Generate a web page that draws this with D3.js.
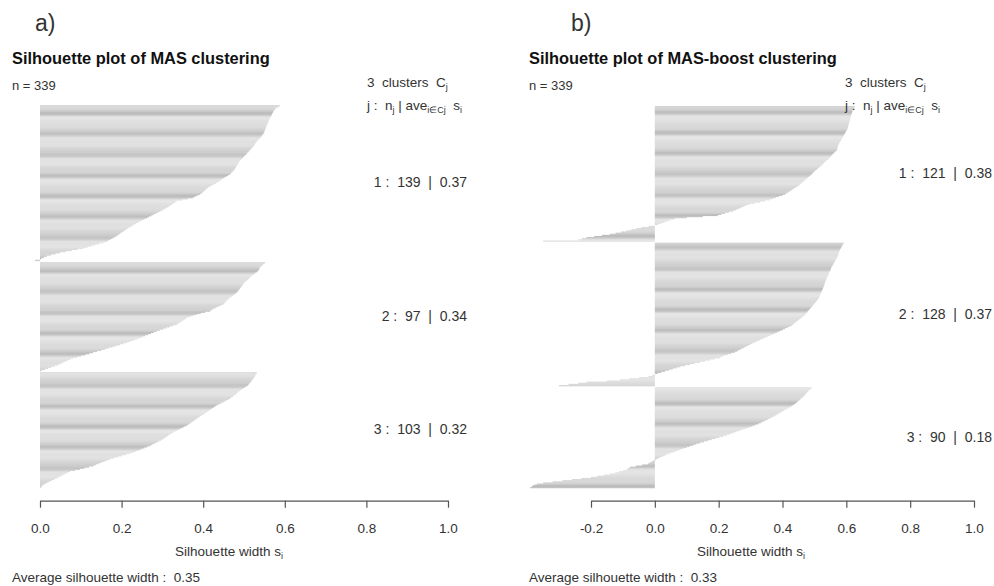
<!DOCTYPE html>
<html>
<head>
<meta charset="utf-8">
<script src="https://cdn.jsdelivr.net/npm/d3@7"></script>
<style>
  body { margin: 0; background: #fff; }
  svg { display: block; font-family: "Liberation Sans", Arial, Helvetica, sans-serif; }
</style>
</head>
<body>
<svg id="chart" width="994" height="586"></svg>
<script>
// ---- Silhouette widths s_i, sorted within each cluster (largest first) ----

// MAS clustering
const masCluster1 = [
  0.588, 0.584, 0.579, 0.576, 0.574, 0.572, 0.571, 0.569, 0.568, 0.567,
  0.565, 0.564, 0.562, 0.561, 0.560, 0.559, 0.558, 0.556, 0.555, 0.554,
  0.553, 0.552, 0.551, 0.550, 0.549, 0.547, 0.545, 0.543, 0.541, 0.539,
  0.536, 0.534, 0.531, 0.529, 0.527, 0.525, 0.523, 0.521, 0.518, 0.516,
  0.513, 0.511, 0.508, 0.506, 0.503, 0.500, 0.498, 0.495, 0.493, 0.490,
  0.488, 0.486, 0.485, 0.483, 0.481, 0.480, 0.478, 0.476, 0.474, 0.471,
  0.468, 0.466, 0.461, 0.457, 0.452, 0.448, 0.444, 0.441, 0.436, 0.431,
  0.426, 0.421, 0.416, 0.412, 0.408, 0.405, 0.402, 0.399, 0.396, 0.392,
  0.386, 0.380, 0.375, 0.362, 0.348, 0.335, 0.331, 0.327, 0.323, 0.319,
  0.315, 0.310, 0.305, 0.300, 0.295, 0.289, 0.284, 0.278, 0.273, 0.267,
  0.262, 0.256, 0.250, 0.245, 0.240, 0.235, 0.230, 0.226, 0.221, 0.216,
  0.212, 0.208, 0.204, 0.200, 0.196, 0.192, 0.188, 0.183, 0.178, 0.173,
  0.168, 0.164, 0.155, 0.145, 0.135, 0.126, 0.116, 0.106, 0.092, 0.078,
  0.063, 0.049, 0.038, 0.027, 0.017, 0.010, 0.004, 0.001, -0.012
];
const masCluster2 = [
  0.552, 0.548, 0.545, 0.542, 0.539, 0.538, 0.537, 0.535, 0.532, 0.528,
  0.525, 0.521, 0.518, 0.515, 0.512, 0.509, 0.506, 0.503, 0.500, 0.498,
  0.496, 0.494, 0.492, 0.490, 0.488, 0.486, 0.483, 0.480, 0.476, 0.473,
  0.470, 0.466, 0.463, 0.460, 0.457, 0.454, 0.452, 0.449, 0.443, 0.437,
  0.431, 0.425, 0.420, 0.417, 0.405, 0.394, 0.384, 0.376, 0.368, 0.360,
  0.356, 0.352, 0.348, 0.343, 0.339, 0.335, 0.326, 0.318, 0.310, 0.302,
  0.294, 0.286, 0.279, 0.272, 0.265, 0.258, 0.252, 0.245, 0.237, 0.229,
  0.221, 0.213, 0.205, 0.196, 0.187, 0.178, 0.168, 0.159, 0.150, 0.140,
  0.130, 0.121, 0.111, 0.101, 0.091, 0.081, 0.074, 0.068, 0.062, 0.056,
  0.050, 0.044, 0.036, 0.028, 0.020, 0.012, 0.004
];
const masCluster3 = [
  0.532, 0.530, 0.528, 0.527, 0.525, 0.523, 0.521, 0.519, 0.517, 0.515,
  0.512, 0.510, 0.506, 0.502, 0.498, 0.494, 0.490, 0.486, 0.483, 0.480,
  0.476, 0.473, 0.469, 0.466, 0.461, 0.455, 0.450, 0.444, 0.438, 0.433,
  0.429, 0.425, 0.421, 0.417, 0.413, 0.409, 0.405, 0.401, 0.396, 0.392,
  0.388, 0.384, 0.380, 0.376, 0.372, 0.368, 0.364, 0.360, 0.354, 0.349,
  0.343, 0.338, 0.332, 0.327, 0.323, 0.318, 0.314, 0.310, 0.306, 0.302,
  0.297, 0.292, 0.286, 0.281, 0.275, 0.270, 0.263, 0.256, 0.249, 0.242,
  0.235, 0.229, 0.219, 0.210, 0.200, 0.191, 0.181, 0.172, 0.165, 0.158,
  0.151, 0.144, 0.137, 0.131, 0.120, 0.109, 0.098, 0.086, 0.074, 0.068,
  0.062, 0.057, 0.051, 0.046, 0.041, 0.035, 0.029, 0.023, 0.018, 0.012,
  0.008, 0.005, 0.002
];

// MAS-boost clustering
const boostCluster1 = [
  0.627, 0.624, 0.622, 0.620, 0.619, 0.618, 0.617, 0.616, 0.615, 0.614,
  0.613, 0.612, 0.611, 0.610, 0.609, 0.608, 0.607, 0.606, 0.605, 0.604,
  0.603, 0.601, 0.599, 0.597, 0.595, 0.593, 0.591, 0.589, 0.587, 0.585,
  0.583, 0.581, 0.579, 0.577, 0.575, 0.574, 0.573, 0.572, 0.571, 0.570,
  0.566, 0.562, 0.558, 0.555, 0.552, 0.549, 0.546, 0.542, 0.538, 0.534,
  0.530, 0.527, 0.523, 0.519, 0.515, 0.511, 0.507, 0.503, 0.499, 0.495,
  0.492, 0.488, 0.484, 0.480, 0.476, 0.472, 0.468, 0.464, 0.460, 0.456,
  0.452, 0.447, 0.441, 0.436, 0.430, 0.425, 0.419, 0.413, 0.408, 0.399,
  0.389, 0.379, 0.370, 0.360, 0.345, 0.330, 0.312, 0.296, 0.286, 0.278,
  0.270, 0.262, 0.254, 0.245, 0.232, 0.220, 0.208, 0.197, 0.150, 0.100,
  0.063, 0.050, 0.040, 0.030, 0.020, 0.010, 0.001, -0.020, -0.042, -0.058,
  -0.073, -0.089, -0.106, -0.123, -0.141, -0.166, -0.190, -0.214, -0.228, -0.240,
  -0.350
];
const boostCluster2 = [
  0.592, 0.589, 0.587, 0.585, 0.583, 0.581, 0.579, 0.578, 0.577, 0.576,
  0.575, 0.574, 0.572, 0.570, 0.568, 0.566, 0.564, 0.562, 0.560, 0.558,
  0.556, 0.554, 0.552, 0.551, 0.550, 0.548, 0.546, 0.545, 0.543, 0.542,
  0.540, 0.539, 0.537, 0.536, 0.534, 0.533, 0.532, 0.531, 0.530, 0.528,
  0.527, 0.525, 0.524, 0.522, 0.521, 0.519, 0.518, 0.516, 0.515, 0.513,
  0.511, 0.508, 0.505, 0.502, 0.499, 0.496, 0.493, 0.490, 0.487, 0.484,
  0.481, 0.478, 0.475, 0.472, 0.469, 0.465, 0.461, 0.456, 0.452, 0.447,
  0.443, 0.438, 0.434, 0.430, 0.423, 0.416, 0.408, 0.401, 0.393, 0.385,
  0.378, 0.370, 0.362, 0.354, 0.346, 0.338, 0.330, 0.322, 0.314, 0.306,
  0.300, 0.293, 0.286, 0.279, 0.272, 0.265, 0.258, 0.251, 0.240, 0.229,
  0.218, 0.210, 0.204, 0.188, 0.172, 0.157, 0.141, 0.125, 0.110, 0.095,
  0.080, 0.068, 0.056, 0.044, 0.032, 0.020, 0.010, 0.001, -0.008, -0.020,
  -0.050, -0.080, -0.110, -0.150, -0.214, -0.240, -0.270, -0.300
];
const boostCluster3 = [
  0.492, 0.488, 0.484, 0.480, 0.477, 0.474, 0.471, 0.468, 0.464, 0.460,
  0.456, 0.452, 0.448, 0.444, 0.440, 0.435, 0.430, 0.424, 0.418, 0.412,
  0.405, 0.399, 0.393, 0.387, 0.381, 0.375, 0.368, 0.361, 0.354, 0.347,
  0.340, 0.332, 0.324, 0.315, 0.306, 0.296, 0.286, 0.276, 0.266, 0.256,
  0.246, 0.236, 0.226, 0.214, 0.202, 0.190, 0.178, 0.166, 0.154, 0.142,
  0.130, 0.120, 0.110, 0.100, 0.090, 0.080, 0.070, 0.060, 0.050, 0.040,
  0.032, 0.024, 0.016, 0.009, 0.003, -0.004, -0.010, -0.016, -0.022, -0.040,
  -0.060, -0.078, -0.085, -0.088, -0.100, -0.112, -0.124, -0.141, -0.160, -0.180,
  -0.200, -0.230, -0.260, -0.290, -0.320, -0.350, -0.370, -0.380, -0.385, -0.390
];

// Cluster summaries (n_j and average s_i) and overall averages
const masSizes = [139, 97, 103];
const masAverages = ["0.37", "0.34", "0.32"];
const masOverall = "0.35";
const boostSizes = [121, 128, 90];
const boostAverages = ["0.38", "0.37", "0.18"];
const boostOverall = "0.33";

// Axis tick values
const masTicks = [0.0, 0.2, 0.4, 0.6, 0.8, 1.0];
const boostTicks = [-0.2, 0.0, 0.2, 0.4, 0.6, 0.8, 1.0];

// ---- Layout / style per panel ----
const panels = [
  {
    tag: "a)", title: "Silhouette plot of MAS clustering",
    clusters: [masCluster1, masCluster2, masCluster3],
    sizes: masSizes, averages: masAverages, overall: masOverall, ticks: masTicks,
    xDomain: [0, 1], xRange: [40, 448],
    top: 105, bottom: 487.5,
    textLeft: 12, tagX: 35, legendX: 367, labelRight: 467, axisTitleX: 229,
    bandPhase: [8, 8.7, 13]
  },
  {
    tag: "b)", title: "Silhouette plot of MAS-boost clustering",
    clusters: [boostCluster1, boostCluster2, boostCluster3],
    sizes: boostSizes, averages: boostAverages, overall: boostOverall, ticks: boostTicks,
    xDomain: [-0.2, 1], xRange: [591, 974],
    top: 106, bottom: 488,
    textLeft: 529, tagX: 571, legendX: 845, labelRight: 992, axisTitleX: 751,
    bandPhase: [5.7, 4.7, 16]
  }
];

const GAP = 1;          // empty slots between clusters
const BAND = 20.7;      // period of the grey shading bands
const axisY = 500.7;

const svg = d3.select("#chart");
const defs = svg.append("defs");

// vertical shading gradient used inside the band pattern
const grad = defs.append("linearGradient")
  .attr("id", "barShade").attr("x1", 0).attr("y1", 0).attr("x2", 0).attr("y2", 1);
[[0, "#b9b9b9"], [0.1, "#c6c6c6"], [0.2, "#e3e3e3"], [0.5, "#dedede"],
 [0.82, "#d1d1d1"], [0.93, "#c7c7c7"], [1, "#b9b9b9"]].forEach(([o, c]) =>
  grad.append("stop").attr("offset", o).attr("stop-color", c));

panels.forEach((p, pi) => {
  const g = svg.append("g");
  const x = d3.scaleLinear().domain(p.xDomain).range(p.xRange);

  // slot positions of every bar, clusters stacked top to bottom
  const total = d3.sum(p.clusters, c => c.length) + GAP * (p.clusters.length - 1);
  const y = d3.scaleLinear().domain([0, total]).range([p.top, p.bottom]);
  const slot = y(1) - y(0);

  let offset = 0;
  p.clusters.forEach((vals, ci) => {
    const start = offset;
    const pid = `band-${pi}-${ci}`;
    const pat = defs.append("pattern")
      .attr("id", pid).attr("patternUnits", "userSpaceOnUse")
      .attr("x", 0).attr("y", y(start) + p.bandPhase[ci])
      .attr("width", 994).attr("height", BAND);
    pat.append("rect").attr("width", 994).attr("height", BAND).attr("fill", "url(#barShade)");

    g.append("g").selectAll("rect")
      .data(vals)
      .join("rect")
      .attr("x", d => Math.min(x(d), x(0)))
      .attr("y", (d, i) => y(start + i))
      .attr("width", d => Math.abs(x(d) - x(0)))
      .attr("height", slot + 0.3)
      .attr("fill", `url(#${pid})`);

    // cluster label  "j :  n_j | ave"
    const mid = (y(start) + y(start + vals.length)) / 2;
    g.append("text")
      .attr("x", p.labelRight).attr("y", mid + 4.5)
      .attr("text-anchor", "end")
      .style("white-space", "pre")
      .attr("font-size", 14).attr("fill", "#333")
      .text(`${ci + 1} :  ${p.sizes[ci]}  |  ${p.averages[ci]}`);

    offset += vals.length + GAP;
  });

  // x axis
  const axis = d3.axisBottom(x)
    .tickValues(p.ticks)
    .tickFormat(d => d.toFixed(1))
    .tickSize(7).tickSizeOuter(0).tickPadding(16);
  const ag = g.append("g").attr("transform", `translate(0,${axisY})`).call(axis);
  ag.select(".domain").attr("stroke", "#555").attr("stroke-width", 1.2);
  ag.selectAll(".tick line").attr("stroke", "#555").attr("stroke-width", 1.2);
  ag.selectAll(".tick text")
    .attr("font-size", 13.5).attr("fill", "#333")
    .attr("font-family", "Liberation Sans, Arial, sans-serif");

  // axis title with subscript
  const at = g.append("text").attr("x", p.axisTitleX).attr("y", 556)
    .attr("text-anchor", "middle")
    .attr("font-size", 13.5).attr("fill", "#333");
  at.append("tspan").text("Silhouette width s");
  at.append("tspan").attr("dy", 3).attr("font-size", 9).text("i");

  // panel tag and title
  g.append("text").attr("x", p.tagX).attr("y", 31)
    .attr("font-size", 23).attr("fill", "#333").text(p.tag);
  g.append("text").attr("x", p.textLeft).attr("y", 64)
    .attr("font-size", 16.4).attr("font-weight", "bold").attr("fill", "#111").text(p.title);

  // n = 339
  g.append("text").attr("x", p.textLeft).attr("y", 90)
    .attr("font-size", 13).attr("fill", "#333")
    .text("n = " + d3.sum(p.sizes));

  // legend heading
  const l1 = g.append("text").attr("x", p.legendX).attr("y", 87)
    .style("white-space", "pre").attr("font-size", 13.5).attr("fill", "#333");
  l1.append("tspan").text(`${p.clusters.length}  clusters  C`);
  l1.append("tspan").attr("dy", 3).attr("font-size", 9).text("j");

  const l2 = g.append("text").attr("x", p.legendX).attr("y", 110)
    .style("white-space", "pre").attr("font-size", 13.5).attr("fill", "#333");
  l2.append("tspan").text("j :  n");
  l2.append("tspan").attr("dy", 3).attr("font-size", 9).text("j");
  l2.append("tspan").attr("dy", -3).text(" | ave");
  l2.append("tspan").attr("dy", 3).attr("font-size", 9).text("i\u2208Cj");
  l2.append("tspan").attr("dy", -3).text("  s");
  l2.append("tspan").attr("dy", 3).attr("font-size", 9).text("i");

  // overall average
  g.append("text").attr("x", p.textLeft).attr("y", 582)
    .style("white-space", "pre").attr("font-size", 13.5).attr("fill", "#333")
    .text(`Average silhouette width :  ${p.overall}`);
});
</script>
</body>
</html>
